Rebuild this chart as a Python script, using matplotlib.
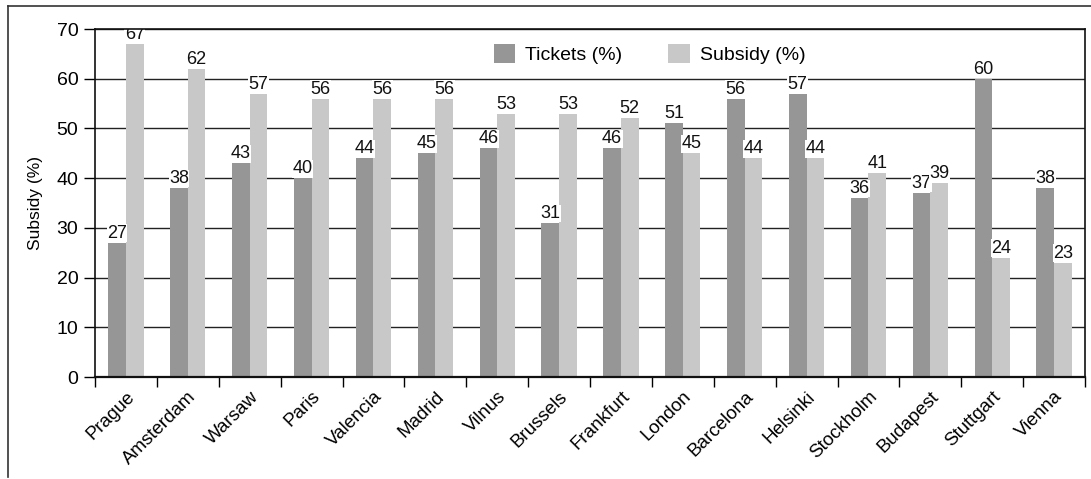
import matplotlib
matplotlib.use("Agg")
import matplotlib.pyplot as plt
import numpy as np
from matplotlib.lines import Line2D

cities = ["Prague", "Amsterdam", "Warsaw", "Paris", "Valencia", "Madrid", "Vilnus",
          "Brussels", "Frankfurt", "London", "Barcelona", "Helsinki", "Stockholm",
          "Budapest", "Stuttgart", "Vienna"]
tickets = [27, 38, 43, 40, 44, 45, 46, 31, 46, 51, 56, 57, 36, 37, 60, 38]
subsidy = [67, 62, 57, 56, 56, 56, 53, 53, 52, 45, 44, 44, 41, 39, 24, 23]
yticks = [0, 10, 20, 30, 40, 50, 60, 70]

plt.rcParams['font.family'] = ['Liberation Sans', 'DejaVu Sans']

fig = plt.figure(figsize=(10.91, 4.79), dpi=100)
ax = fig.add_axes([95/1091, 1-377/479, (1085-95)/1091, (377-29)/479])

x = np.arange(len(cities))
w = 0.285
c_t = "#969696"
c_s = "#c8c8c8"
b1 = ax.bar(x - w/2, tickets, w, color=c_t, label="Tickets (%)", zorder=2)
b2 = ax.bar(x + w/2, subsidy, w, color=c_s, label="Subsidy (%)", zorder=2)

for bars, vals in ((b1, tickets), (b2, subsidy)):
    for r, v in zip(bars, vals):
        t = ax.text(r.get_x() + r.get_width()/2, v + 0.2, f"{v}", ha="center", va="bottom",
                    fontsize=13, color="#111111", zorder=2.3,
                    bbox=dict(facecolor="white", edgecolor="none", pad=0.3))
        t.set_clip_on(True)

ax.set_xlim(-0.5, len(cities) - 0.5)
ax.set_ylim(0, 70)
ax.set_yticks(yticks)
ax.tick_params(axis="y", labelsize=14, length=8, width=1, pad=4, direction="out")
ax.yaxis.grid(True, color="#222222", linewidth=1, zorder=0)
ax.set_axisbelow(True)

ax.set_xticks(x)
ax.set_xticklabels(cities, rotation=45, ha="right", rotation_mode="anchor", fontsize=13.5)
ax.tick_params(axis="x", length=0, pad=8)
ax.set_xticks(np.arange(len(cities) + 1) - 0.5, minor=True)
ax.tick_params(axis="x", which="minor", length=7, width=1, direction="out")

for s in ax.spines.values():
    s.set_linewidth(1.2)
    s.set_color("#111111")
    s.set_zorder(2.6)
ax.spines["bottom"].set_linewidth(1.6)

ax.set_ylabel("Subsidy (%)", fontsize=12.5, labelpad=10)

ax.legend(loc="center", bbox_to_anchor=(0.56, 0.928), ncol=2, frameon=False,
          fontsize=14, handlelength=1.1, handleheight=1.1, handletextpad=0.5,
          columnspacing=2.4)

# figure border (top and left)
fig.add_artist(Line2D([8/1091, 1.0], [1-6/479, 1-6/479], color="#333333", linewidth=1.2))
fig.add_artist(Line2D([8/1091, 8/1091], [1-6/479, 1-477/479], color="#333333", linewidth=1.2))

fig.savefig("out.png", dpi=100)
